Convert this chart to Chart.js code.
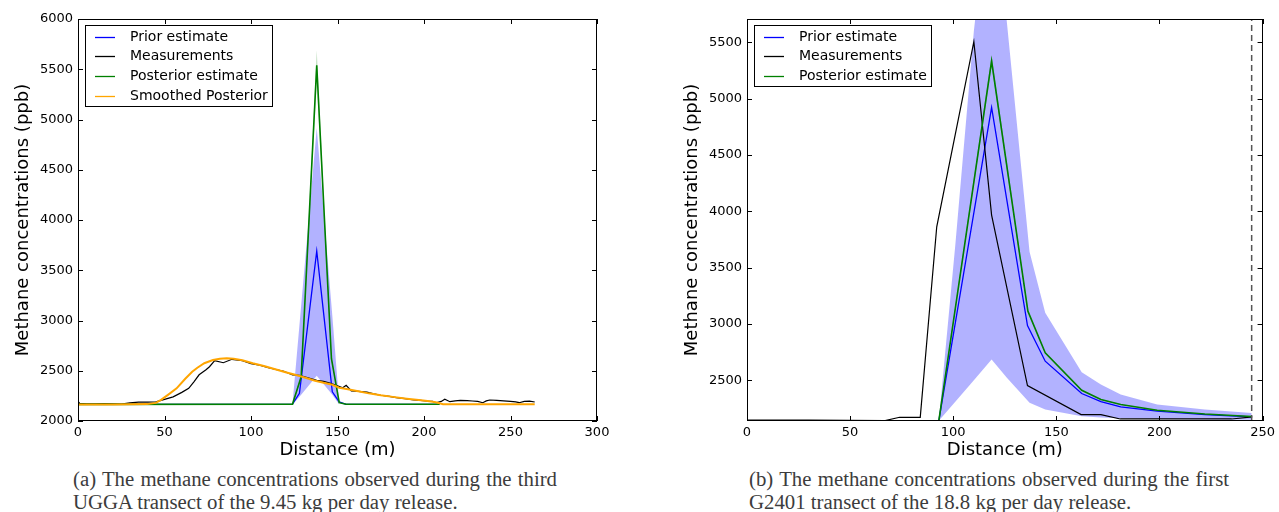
<!DOCTYPE html>
<html>
<head>
<meta charset="utf-8">
<script src="https://cdn.jsdelivr.net/npm/chart.js@4.4.0/dist/chart.umd.min.js"></script>
<style>
  html, body { margin: 0; padding: 0; background: #fff; }
  body { width: 1279px; height: 512px; position: relative; overflow: hidden; }
  canvas { position: absolute; top: 0; }
  #chartA { left: 0; }
  #chartB { left: 669px; }
  .cap { position: absolute; font-family: "Liberation Serif", serif; font-size: 20.8px; color: #3c3c3c; line-height: 23px; white-space: nowrap; }
  .just { text-align: justify; text-align-last: justify; white-space: normal; }
</style>
</head>
<body>
<canvas id="chartA" width="620" height="465"></canvas>
<canvas id="chartB" width="610" height="465"></canvas>
<div class="cap just" style="left:73px; top:467px; width:484px;">(a) The methane concentrations observed during the third</div>
<div class="cap" style="left:73px; top:490px;">UGGA transect of the 9.45 kg per day release.</div>
<div class="cap just" style="left:749px; top:467px; width:480px;">(b) The methane concentrations observed during the first</div>
<div class="cap" style="left:749px; top:490px;">G2401 transect of the 18.8 kg per day release.</div>
<script>
// ---- panel (a) values ----
const xTicksA = [0, 50, 100, 150, 200, 250, 300];
const yTicksA = [2000, 2500, 3000, 3500, 4000, 4500, 5000, 5500, 6000];

const priorA = [[0, 2165], [124, 2168], [128, 2275], [138, 3690], [147, 2290], [151, 2190], [155, 2166], [209, 2166]];
const posteriorA = [[0, 2165], [124, 2168], [129, 2440], [138, 5540], [146.5, 2620], [151, 2182], [155, 2166], [209, 2166]];
const measA = [[0, 2195], [1, 2175], [5, 2170], [10, 2170], [15, 2172], [20, 2170], [25, 2168], [30, 2180], [35, 2188],
  [40, 2188], [45, 2190], [50, 2215], [55, 2240], [60, 2285], [64, 2325], [67, 2390], [70, 2460], [74, 2510], [76, 2540],
  [79, 2600], [84, 2580], [89, 2614], [95, 2600], [100, 2570], [105, 2555], [110, 2530], [115, 2510], [119, 2495],
  [124, 2458], [128, 2455], [133, 2430], [138, 2405], [142, 2395], [146, 2375], [150, 2350], [153, 2330], [155, 2355],
  [158, 2300], [162, 2295], [167, 2288], [171, 2270], [175, 2256], [180, 2245], [184, 2232], [189, 2222], [194, 2209],
  [198, 2205], [201, 2199], [205, 2195], [207, 2182], [210, 2195], [212, 2216], [215, 2192], [218, 2200], [221, 2205],
  [225, 2202], [228, 2199], [231, 2195], [234, 2182], [236, 2200], [238, 2209], [242, 2205], [246, 2200], [250, 2196],
  [253, 2190], [255, 2182], [258, 2196], [261, 2198], [264, 2189]];
const smoothA = [[0, 2165], [20, 2165], [40, 2168], [45, 2180], [48, 2210], [52, 2260], [57, 2325], [62, 2420], [66, 2490],
  [69, 2530], [73, 2575], [78, 2607], [82, 2620], [86, 2624], [90, 2620], [95, 2605], [101, 2575], [108, 2545],
  [115, 2510], [120, 2485], [125, 2462], [131, 2432], [137, 2400], [142, 2380], [147, 2360], [151, 2331], [156, 2315],
  [162, 2295], [168, 2275], [175, 2256], [182, 2240], [190, 2222], [197, 2208], [202, 2199], [206, 2190], [208, 2182],
  [211, 2166], [264, 2166]];
const bandXA = [124, 129, 138, 147, 151];
const bandUpA = [2175, 3150, 4915, 3050, 2175];
const bandLoA = [2165, 2260, 2450, 2260, 2165];
const postBandXA = [124, 129, 138, 146.5, 151];
const postBandUpA = [2168, 2460, 5690, 2640, 2182];
const postBandLoA = [2168, 2420, 5380, 2600, 2182];

// ---- panel (b) values ----
const xTicksB = [0, 50, 100, 150, 200, 250];
const yTicksB = [2500, 3000, 3500, 4000, 4500, 5000, 5500];

const priorB = [[93, 2140], [118.6, 4922], [136, 2986], [144.6, 2669], [162.3, 2382], [171.6, 2310], [181.2, 2263],
  [198.9, 2225], [222, 2195], [244.7, 2174]];
const measB = [[0, 2147], [30, 2145], [67, 2142], [74, 2171], [84, 2171], [92, 3862], [110, 5505], [118.6, 3966],
  [136, 2453], [162, 2195], [171.6, 2195], [181, 2156], [235, 2156], [245, 2174]];
const posteriorB = [[93, 2140], [118.6, 5334], [136.2, 3113], [144.6, 2743], [162.3, 2411], [171.6, 2329], [181.2, 2284],
  [198.9, 2234], [222, 2200], [244.7, 2178]];
const bandXB = [93, 101, 110, 118.6, 126, 137, 144.6, 162.3, 171.6, 181.2, 198.9, 222, 244.7];
const bandUpB = [2140, 3700, 5600, 7000, 5680, 3640, 3098, 2571, 2462, 2373, 2284, 2240, 2210];
const bandLoB = [2140, 2310, 2500, 2684, 2523, 2300, 2240, 2180, 2170, 2162, 2155, 2152, 2150];
const postBandXB = [93, 118.6, 136.2];
const postBandUpB = [2140, 5390, 3130];
const postBandLoB = [2140, 5290, 3095];
const dashB = [[244.7, 2138], [244.7, 5707]];

const FONT = "DejaVu Sans";

const toXY = pairs => pairs.map(([x, y]) => ({ x, y }));
const zipXY = (xs, ys) => xs.map((x, i) => ({ x, y: ys[i] }));

function lineSet(label, pairs, color, width, order, extra) {
  return Object.assign({
    label, data: toXY(pairs), borderColor: color, borderWidth: width,
    pointRadius: 0, tension: 0, fill: false, order, inLegend: true
  }, extra || {});
}

function bandSets(xs, up, lo, color, order) {
  return [
    { label: "", data: zipXY(xs, up), borderWidth: 0, borderColor: "rgba(0,0,0,0)", pointRadius: 0,
      tension: 0, fill: "+1", backgroundColor: color, order },
    { label: "", data: zipXY(xs, lo), borderWidth: 0, borderColor: "rgba(0,0,0,0)", pointRadius: 0,
      tension: 0, fill: false, order }
  ];
}

// matplotlib-like frame with inward ticks on all four sides
const frameTicks = {
  id: "frameTicks",
  afterDraw(chart) {
    const { ctx, chartArea: a, scales: { x, y } } = chart;
    ctx.save();
    ctx.strokeStyle = "#000";
    ctx.lineWidth = 1;
    ctx.strokeRect(Math.round(a.left) + 0.5, Math.round(a.top) + 0.5,
      Math.round(a.right - a.left) - 1, Math.round(a.bottom - a.top) - 1);
    ctx.beginPath();
    x.ticks.forEach(t => {
      const px = Math.round(x.getPixelForValue(t.value)) + 0.5;
      ctx.moveTo(px, a.bottom); ctx.lineTo(px, a.bottom - 5);
      ctx.moveTo(px, a.top); ctx.lineTo(px, a.top + 5);
    });
    y.ticks.forEach(t => {
      const py = Math.round(y.getPixelForValue(t.value)) + 0.5;
      ctx.moveTo(a.left, py); ctx.lineTo(a.left + 5, py);
      ctx.moveTo(a.right, py); ctx.lineTo(a.right - 5, py);
    });
    ctx.stroke();
    ctx.restore();
  }
};

const boxLegend = {
  id: "boxLegend",
  afterDraw(chart, args, opts) {
    const { ctx } = chart;
    const items = chart.data.datasets.filter(d => d.inLegend);
    ctx.save();
    ctx.fillStyle = "#fff";
    ctx.fillRect(opts.x, opts.y, opts.w, opts.h);
    ctx.strokeStyle = "#000";
    ctx.lineWidth = 1;
    ctx.strokeRect(opts.x + 0.5, opts.y + 0.5, opts.w, opts.h);
    ctx.font = "14px '" + FONT + "'";
    ctx.textBaseline = "middle";
    items.forEach((d, i) => {
      const yy = Math.round(opts.y + 11.7 + i * 19.6) + 0.5;
      ctx.strokeStyle = d.borderColor;
      ctx.lineWidth = 1.3;
      ctx.beginPath();
      ctx.moveTo(opts.x + 10, yy);
      ctx.lineTo(opts.x + 30, yy);
      ctx.stroke();
      ctx.fillStyle = "#000";
      ctx.fillText(d.label, opts.x + 45, yy);
    });
    ctx.restore();
  }
};

function axes(xMin, xMax, xTicks, yMin, yMax, yTicks) {
  const tickFont = { family: FONT, size: 13 };
  return {
    x: {
      type: "linear", min: xMin, max: xMax,
      grid: { display: false, drawTicks: false },
      border: { display: false },
      afterBuildTicks: s => { s.ticks = xTicks.map(v => ({ value: v })); },
      afterFit: s => { s.height = 44; },
      ticks: { color: "#000", font: tickFont, padding: 4, maxRotation: 0, autoSkip: false, callback: v => String(v) },
      title: { display: true, text: "Distance (m)", color: "#000", font: { family: FONT, size: 18 }, padding: { top: 0, bottom: 4 } }
    },
    y: {
      type: "linear", min: yMin, max: yMax,
      grid: { display: false, drawTicks: false },
      border: { display: false },
      afterBuildTicks: s => { s.ticks = yTicks.map(v => ({ value: v })); },
      afterFit: s => { s.width = 78; },
      ticks: { color: "#000", font: tickFont, padding: 5, autoSkip: false, callback: v => String(v) },
      title: { display: true, text: "Methane concentrations (ppb)", color: "#000", font: { family: FONT, size: 18 }, padding: { top: 13, bottom: 0 } }
    }
  };
}

const BLUE = "#0000ff", BLACK = "#000000", GREEN = "#008000", ORANGE = "#ffa500";

new Chart(document.getElementById("chartA"), {
  type: "line",
  data: {
    datasets: [
      lineSet("Prior estimate", priorA, BLUE, 1.3, 4),
      lineSet("Measurements", measA, BLACK, 1.2, 3),
      lineSet("Posterior estimate", posteriorA, GREEN, 1.6, 2),
      lineSet("Smoothed Posterior", smoothA, ORANGE, 2, 1),
      ...bandSets(bandXA, bandUpA, bandLoA, "rgba(0,0,255,0.3)", 8),
      ...bandSets(postBandXA, postBandUpA, postBandLoA, "rgba(0,128,0,0.25)", 6)
    ]
  },
  options: {
    responsive: false,
    animation: false,
    layout: { padding: { left: 0, top: 19, right: 23, bottom: 0 } },
    plugins: {
      legend: { display: false },
      tooltip: { enabled: false },
      boxLegend: { x: 85, y: 25, w: 187, h: 81 }
    },
    scales: axes(0, 300, xTicksA, 2000, 6000, yTicksA)
  },
  plugins: [frameTicks, boxLegend]
});

new Chart(document.getElementById("chartB"), {
  type: "line",
  data: {
    datasets: [
      lineSet("Prior estimate", priorB, BLUE, 1.3, 4),
      lineSet("Measurements", measB, BLACK, 1.2, 3),
      lineSet("Posterior estimate", posteriorB, GREEN, 1.6, 2),
      ...bandSets(bandXB, bandUpB, bandLoB, "rgba(0,0,255,0.3)", 8),
      ...bandSets(postBandXB, postBandUpB, postBandLoB, "rgba(0,128,0,0.25)", 6),
      { label: "", data: toXY(dashB), borderColor: "#555", borderWidth: 1.5, borderDash: [6, 4],
        pointRadius: 0, fill: false, order: 0 }
    ]
  },
  options: {
    responsive: false,
    animation: false,
    layout: { padding: { left: 0, top: 19, right: 13, bottom: 0 } },
    plugins: {
      legend: { display: false },
      tooltip: { enabled: false },
      boxLegend: { x: 85, y: 25, w: 177, h: 61 }
    },
    scales: axes(0, 250, xTicksB, 2138, 5707, yTicksB)
  },
  plugins: [frameTicks, boxLegend]
});
</script>
</body>
</html>
